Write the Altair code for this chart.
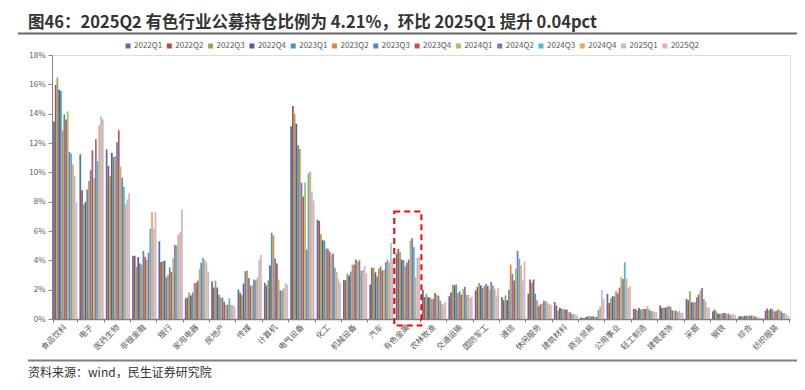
import altair as alt
import pandas as pd

industries = ["食品饮料", "电子", "医药生物", "非银金融", "银行", "家用电器", "房地产", "传媒",
              "计算机", "电气设备", "化工", "机械设备", "汽车", "有色金属", "农林牧渔", "交通运输",
              "国防军工", "通信", "休闲服务", "建筑材料", "商业贸易", "公用事业", "轻工制造",
              "建筑装饰", "采掘", "钢铁", "综合", "纺织服装"]

quarters = ["2022Q1", "2022Q2", "2022Q3", "2022Q4", "2023Q1", "2023Q2", "2023Q3",
            "2023Q4", "2024Q1", "2024Q2", "2024Q3", "2024Q4", "2025Q1", "2025Q2"]

colors = ["#4A72B0", "#B84A47", "#8DAE4F", "#6E548F", "#3E9CB8", "#E8853A", "#5A86C8",
          "#C9514E", "#A5C262", "#8A70B0", "#4DB6D2", "#F7A05A", "#B0C0DE", "#E2B0B0"]

# holdings ratio (%) per industry, 2022Q1 .. 2025Q2
v_food = [13.46, 15.97, 16.47, 15.63, 15.56, 12.85, 13.94, 13.6, 14.15, 11.39, 11.28, 10.53, 9.78, 7.95]
v_elec = [11.23, 8.77, 7.81, 7.97, 8.84, 9.41, 10.14, 11.5, 9.59, 12.26, 10.77, 13.21, 13.83, 13.62]
v_med = [11.57, 10.43, 9.73, 11.32, 11.05, 11.1, 12.05, 12.87, 10.39, 9.64, 9.0, 7.81, 8.15, 8.58]
v_nonbank = [4.31, 4.31, 3.55, 4.22, 3.8, 3.7, 4.64, 4.25, 4.05, 4.52, 6.16, 7.3, 6.18, 7.27]
v_bank = [5.3, 3.89, 3.93, 3.98, 2.84, 3.0, 3.52, 3.2, 4.14, 5.05, 5.02, 5.75, 5.91, 7.48]
v_appl = [1.41, 1.48, 1.8, 1.6, 1.8, 2.46, 2.46, 2.62, 3.42, 3.85, 4.17, 4.03, 3.85, 3.23]
v_estate = [2.55, 2.14, 2.62, 2.14, 1.66, 1.45, 1.45, 1.18, 0.97, 0.97, 1.4, 0.96, 0.96, 0.83]
v_media = [2.0, 1.78, 1.62, 2.42, 3.26, 3.3, 2.8, 2.28, 2.28, 2.69, 2.64, 2.82, 4.05, 4.37]
v_comp = [2.47, 2.29, 2.64, 3.65, 5.88, 5.7, 4.12, 3.78, 2.69, 1.95, 1.95, 2.1, 2.46, 2.35]
v_power = [13.14, 14.52, 13.96, 13.31, 11.84, 11.6, 9.3, 8.35, 9.3, 4.74, 9.92, 10.05, 8.68, 8.08]
v_chem = [6.77, 6.69, 5.77, 5.36, 5.36, 4.8, 4.8, 4.6, 4.4, 4.47, 3.5, 3.21, 2.75, 2.48]
v_mach = [2.66, 2.64, 3.09, 2.96, 3.23, 3.71, 3.71, 4.05, 3.92, 4.0, 3.28, 3.36, 3.64, 3.1]
v_auto = [2.35, 3.49, 3.49, 3.18, 2.9, 3.44, 3.58, 3.32, 3.34, 3.87, 4.05, 3.87, 5.19, 4.06]
v_metal = [4.46, 4.78, 4.56, 4.05, 3.99, 3.6, 3.83, 4.05, 5.35, 5.51, 4.9, 2.85, 4.17, 4.21]
v_agri = [2.0, 1.5, 1.73, 1.48, 1.48, 1.37, 1.37, 1.78, 1.64, 1.59, 1.25, 1.03, 0.98, 1.16]
v_trans = [1.55, 1.8, 2.35, 2.3, 2.35, 1.78, 1.89, 1.66, 2.05, 2.19, 1.64, 1.64, 1.44, 1.53]
v_defense = [1.95, 2.19, 2.46, 2.3, 2.12, 2.25, 2.39, 2.25, 2.0, 2.53, 2.28, 2.07, 1.62, 2.12]
v_telecom = [1.48, 1.28, 1.62, 1.28, 2.0, 3.71, 3.08, 2.62, 3.44, 4.65, 4.12, 3.64, 2.64, 3.92]
v_leisure = [1.73, 2.69, 2.46, 2.69, 1.73, 1.28, 0.87, 1.0, 1.05, 1.25, 1.21, 1.14, 1.03, 0.98]
v_build = [1.16, 0.91, 0.57, 0.77, 0.68, 0.68, 0.64, 0.64, 0.46, 0.46, 0.34, 0.34, 0.3, 0.23]
v_trade = [0.11, 0.07, 0.07, 0.14, 0.18, 0.18, 0.18, 0.18, 0.14, 0.14, 0.62, 0.84, 1.96, 1.39]
v_util = [1.71, 1.1, 1.39, 1.55, 1.55, 1.89, 1.75, 2.14, 2.87, 2.73, 3.87, 2.76, 2.12, 2.23]
v_light = [0.68, 0.68, 0.57, 0.75, 0.64, 0.68, 0.68, 0.68, 0.87, 0.64, 0.55, 0.55, 0.48, 0.48]
v_deco = [0.93, 0.77, 0.77, 0.77, 0.82, 0.91, 0.82, 0.59, 0.55, 0.59, 0.46, 0.57, 0.43, 0.43]
v_mining = [1.37, 1.28, 1.89, 1.14, 1.14, 1.14, 1.48, 1.66, 1.94, 2.12, 1.37, 1.18, 0.82, 0.77]
v_steel = [0.52, 0.64, 0.52, 0.36, 0.36, 0.36, 0.41, 0.41, 0.34, 0.36, 0.3, 0.25, 0.34, 0.25]
v_misc = [0.18, 0.18, 0.18, 0.2, 0.23, 0.23, 0.23, 0.23, 0.23, 0.18, 0.14, 0.11, 0.09, 0.09]
v_textile = [0.57, 0.71, 0.59, 0.71, 0.64, 0.52, 0.52, 0.64, 0.64, 0.52, 0.41, 0.41, 0.32, 0.23]

series_by_industry = [v_food, v_elec, v_med, v_nonbank, v_bank, v_appl, v_estate, v_media,
                      v_comp, v_power, v_chem, v_mach, v_auto, v_metal, v_agri, v_trans,
                      v_defense, v_telecom, v_leisure, v_build, v_trade, v_util, v_light,
                      v_deco, v_mining, v_steel, v_misc, v_textile]

y_ticks = [0, 2, 4, 6, 8, 10, 12, 14, 16, 18]

title_text = "图46：2025Q2 有色行业公募持仓比例为 4.21%，环比 2025Q1 提升 0.04pct"
source_text = "资料来源：wind，民生证券研究院"
highlight = ["有色金属"]
highlight_top = [7.33]
highlight_bottom = [-0.45]

rows = []
for ind, vals in zip(industries, series_by_industry):
    for q, v in zip(quarters, vals):
        rows.append({"industry": ind, "quarter": q, "value": v})
df = pd.DataFrame(rows)

FONT = "Noto Sans CJK SC"

x_axis = alt.Axis(labelAngle=315, labelAlign="right", labelBaseline="middle",
                  labelFontSize=8, labelColor="#595959", labelFont=FONT,
                  labelPadding=4, domainColor="#7f7f7f", domainWidth=1.5,
                  tickColor="#7f7f7f", tickSize=3, tickBand="extent",
                  labelOverlap=False)
y_axis = alt.Axis(values=y_ticks, labelExpr="datum.value + '%'",
                  grid=False, labelFontSize=8, labelColor="#595959",
                  labelFont=FONT, domainColor="#868686", tickColor="#868686",
                  tickSize=4, labelPadding=3, labelOverlap=False, tickCount=10)

x_scale = alt.Scale(paddingInner=0.08, paddingOuter=0.04)
y_scale = alt.Scale(domain=[0, 18], nice=False)

bars = alt.Chart(df).mark_bar().encode(
    x=alt.X("industry:N", sort=industries, title=None, scale=x_scale, axis=x_axis),
    xOffset=alt.XOffset("quarter:N", sort=quarters,
                        scale=alt.Scale(paddingInner=0, paddingOuter=0)),
    y=alt.Y("value:Q", scale=y_scale, title=None, axis=y_axis),
    color=alt.Color("quarter:N", sort=quarters,
                    scale=alt.Scale(domain=quarters, range=colors),
                    legend=alt.Legend(title=None, orient="none", legendX=72, legendY=-13,
                                      direction="horizontal", columns=14,
                                      symbolType="square", symbolSize=25,
                                      symbolStrokeWidth=0, labelFontSize=8,
                                      labelColor="#595959", labelFont=FONT,
                                      labelOffset=2, columnPadding=2.3)),
)

hl_df = pd.DataFrame({"industry": highlight, "top": highlight_top, "bottom": highlight_bottom})
box = alt.Chart(hl_df).mark_bar(fillOpacity=0, stroke="#FF0000", strokeWidth=2,
                                strokeDash=[6, 4], width=alt.RelativeBandSize(1.12)).encode(
    x=alt.X("industry:N", sort=industries, title=None, scale=x_scale, axis=x_axis),
    y=alt.Y("top:Q", scale=y_scale, title=None, axis=y_axis),
    y2="bottom:Q",
)

title_df = pd.DataFrame({"t": [title_text]})
title = alt.Chart(title_df).mark_text(align="left", baseline="middle", font=FONT,
                                      fontSize=16.5, fontWeight="bold", color="#333333").encode(
    x=alt.value(-24), y=alt.value(-32), text="t:N")

title_line = alt.Chart(title_df).mark_rule(color="#666666", strokeWidth=2).encode(
    x=alt.value(-34), x2=alt.value(745), y=alt.value(-21.5))

src_df = pd.DataFrame({"t": [source_text]})
source = alt.Chart(src_df).mark_text(align="left", baseline="middle", font=FONT,
                                     fontSize=12, color="#333333").encode(
    x=alt.value(-24), y=alt.value(318), text="t:N")

src_line = alt.Chart(src_df).mark_rule(color="#7f7f7f", strokeWidth=2).encode(
    x=alt.value(-24), x2=alt.value(745), y=alt.value(305.5))

chart = alt.layer(bars, box, title, title_line, source, src_line).properties(
    width=738, height=264,
    autosize=alt.AutoSizeParams(type="none"),
    padding={"left": 44, "top": 47, "right": 7, "bottom": 63},
).configure_view(stroke=None).configure(font=FONT)

chart.save("out.html", embed_options={"renderer": "svg", "actions": False})
